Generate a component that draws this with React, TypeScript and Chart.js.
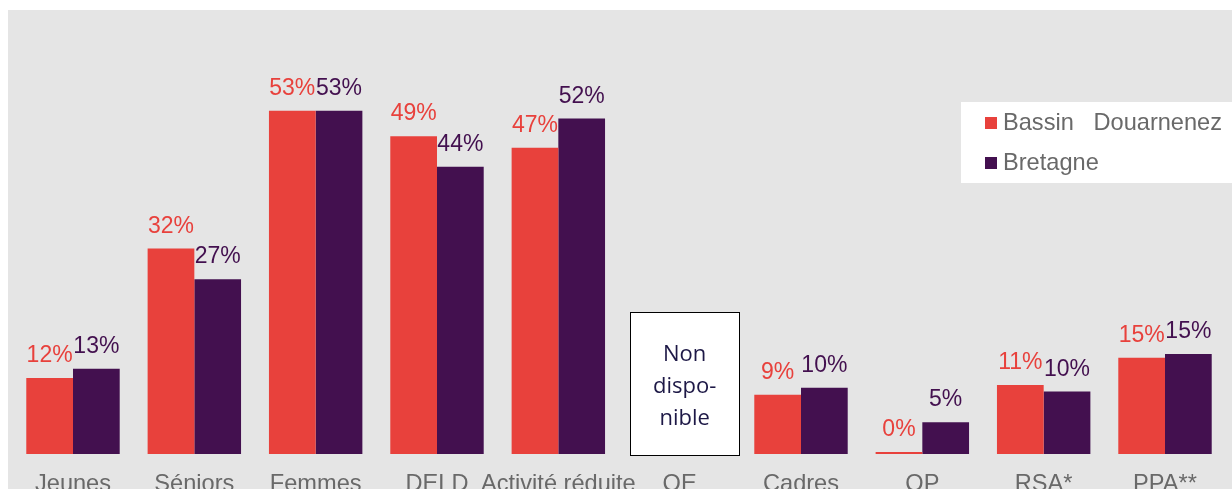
import { useEffect, useRef } from 'react';
import { Chart, registerables } from 'chart.js';

Chart.register(...registerables);

const categories = ['Jeunes', 'Séniors', 'Femmes', 'DELD', 'Activité réduite', 'OE', 'Cadres', 'QP', 'RSA*', 'PPA**'];
const bassinValues = [11.7, 31.6, 52.8, 48.9, 47.1, null, 9.1, 0, 10.6, 14.8];
const bretagneValues = [13.1, 26.9, 52.8, 44.2, 51.6, null, 10.2, 4.9, 9.6, 15.4];
const seriesNames = ['Bassin   Douarnenez', 'Bretagne'];
const unavailableCategory = 'OE';
const unavailableLines = ['Non', 'dispo-', 'nible'];
const unavailableBoxTop = 21.85;
const yMax = 60;

const RED = '#e8413c';
const PURPLE = '#43104f';
const GRAY_TEXT = '#696969';
const FONT = '"Liberation Sans", Arial, sans-serif';

const overlayPlugin = {
  id: 'overlay',
  afterDatasetsDraw(chart: any) {
    const ctx = chart.ctx;
    const xs = chart.scales.x;
    const ys = chart.scales.y;
    const area = chart.chartArea;
    ctx.save();

    // value labels
    const colors = [RED, PURPLE];
    ctx.font = `23px ${FONT}`;
    ctx.textAlign = 'center';
    ctx.textBaseline = 'alphabetic';
    chart.data.datasets.forEach((ds: any, di: number) => {
      const meta = chart.getDatasetMeta(di);
      ds.data.forEach((v: number | null, i: number) => {
        if (v === null || v === undefined) return;
        const el = meta.data[i];
        ctx.fillStyle = colors[di];
        ctx.fillText(`${Math.round(v)}%`, el.x, Math.min(el.y, area.bottom - 2) - 16);
      });
    });

    // category labels
    ctx.font = `23.6px ${FONT}`;
    ctx.fillStyle = GRAY_TEXT;
    categories.forEach((c, i) => {
      ctx.fillText(c, xs.getPixelForValue(i), area.bottom + 37);
    });

    // unavailable box
    const ui = categories.indexOf(unavailableCategory);
    const cx = xs.getPixelForValue(ui) + 5;
    const w = 109;
    const top = ys.getPixelForValue(unavailableBoxTop);
    const bottom = area.bottom + 1;
    ctx.fillStyle = '#ffffff';
    ctx.fillRect(cx - w / 2, top, w, bottom - top);
    ctx.strokeStyle = '#000000';
    ctx.lineWidth = 1;
    ctx.strokeRect(Math.round(cx - w / 2) + 0.5, Math.round(top) + 0.5, w, Math.round(bottom - top));
    ctx.fillStyle = '#1d1846';
    ctx.font = '22px "Open Sans", sans-serif';
    ctx.textBaseline = 'middle';
    const mid = (top + bottom) / 2;
    unavailableLines.forEach((line, i) => {
      ctx.fillText(line, cx, mid + (i - 1) * 32 + 3);
    });

    // legend
    ctx.fillStyle = '#ffffff';
    ctx.fillRect(953, 92, 271, 81);
    ctx.font = `23.6px ${FONT}`;
    ctx.textAlign = 'left';
    ctx.textBaseline = 'alphabetic';
    seriesNames.forEach((name, i) => {
      const rowY = 107 + i * 40;
      ctx.fillStyle = colors[i];
      ctx.fillRect(977, rowY, 12, 12);
      ctx.fillStyle = GRAY_TEXT;
      ctx.fillText(name, 995, rowY + 13);
    });

    ctx.restore();
  },
};

export default function App() {
  const canvasRef = useRef<HTMLCanvasElement | null>(null);

  useEffect(() => {
    if (!canvasRef.current) return;
    const chart = new Chart(canvasRef.current, {
      type: 'bar',
      data: {
        labels: categories,
        datasets: [
          {
            label: seriesNames[0],
            data: bassinValues,
            backgroundColor: RED,
            borderWidth: 0,
            minBarLength: 2,
            categoryPercentage: 0.77,
            barPercentage: 1,
          },
          {
            label: seriesNames[1],
            data: bretagneValues,
            backgroundColor: PURPLE,
            borderWidth: 0,
            minBarLength: 2,
            categoryPercentage: 0.77,
            barPercentage: 1,
          },
        ],
      },
      options: {
        responsive: false,
        animation: false,
        maintainAspectRatio: false,
        layout: { padding: { left: 4.33, right: 6.33, top: 54, bottom: 35 } },
        plugins: { legend: { display: false }, tooltip: { enabled: false } },
        scales: {
          x: { display: false, grid: { display: false } },
          y: { display: false, min: 0, max: yMax, grid: { display: false } },
        },
      },
      plugins: [overlayPlugin],
    });
    return () => chart.destroy();
  }, []);

  return (
    <div
      style={{
        position: 'absolute',
        left: 8,
        top: 10,
        width: 1224,
        height: 479,
        background: '#e5e5e5',
        overflow: 'hidden',
      }}
    >
      <canvas ref={canvasRef} width={1224} height={479} style={{ display: 'block' }} />
    </div>
  );
}
